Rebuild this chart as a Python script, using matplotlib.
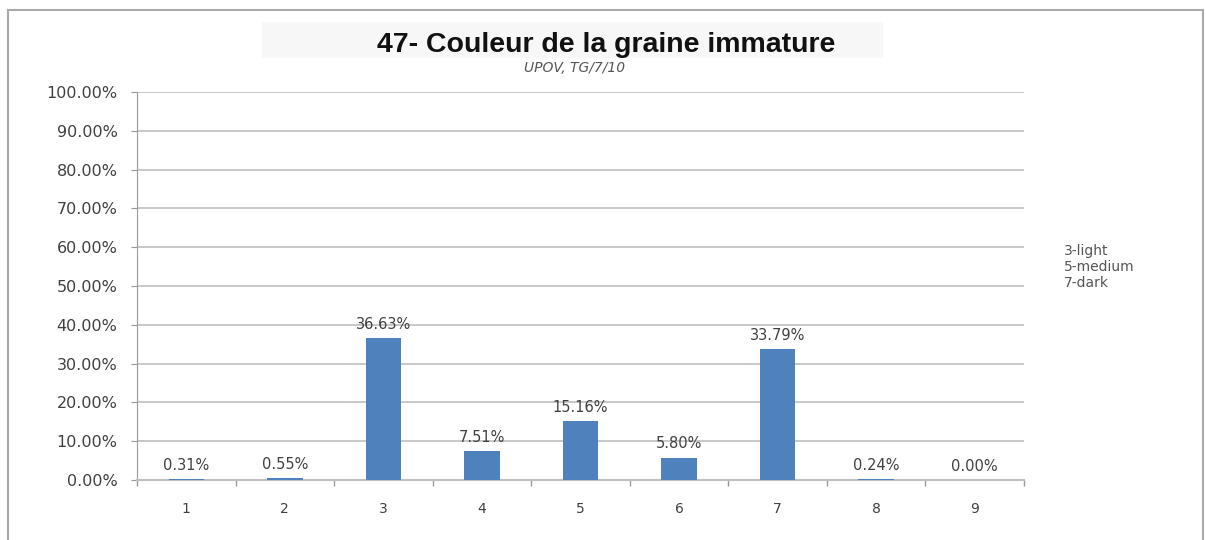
import matplotlib.pyplot as plt
from matplotlib.patches import Rectangle
from matplotlib.ticker import FuncFormatter, MultipleLocator

categories = ['1', '2', '3', '4', '5', '6', '7', '8', '9']
values = [0.31, 0.55, 36.63, 7.51, 15.16, 5.80, 33.79, 0.24, 0.00]
legend_lines = ['3-light', '5-medium', '7-dark']

fig = plt.figure(figsize=(12.06, 5.4), dpi=100)
ax = fig.add_axes([0.1136, 0.111, 0.7355, 0.7185])

x = list(range(len(categories)))
ax.bar(x, values, width=0.36, color='#4F81BD', zorder=3)
for xi, v in zip(x, values):
    ax.text(xi, v + 1.6, f'{v:.2f}%', ha='center', va='bottom',
            fontsize=10.5, color='#404040', zorder=4)

ax.set_xlim(-0.5, len(categories) - 0.5)
ax.set_ylim(0, 100)
ax.yaxis.set_major_locator(MultipleLocator(10))
ax.yaxis.set_major_formatter(FuncFormatter(lambda v, p: f'{v:.2f}%'))
ax.grid(axis='y', color='#BFBFBF', linewidth=1.2, zorder=0)

ax.set_xticks(x)
ax.set_xticklabels(categories)
ax.set_xticks([i + 0.5 for i in range(-1, len(categories))], minor=True)
ax.tick_params(axis='x', which='major', length=0, pad=16, labelsize=10, labelcolor='#404040')
ax.tick_params(axis='x', which='minor', length=4, color='#999999', width=1)
ax.tick_params(axis='y', length=4, color='#999999', labelsize=11.5, labelcolor='#404040', pad=10)

for side in ['top', 'right']:
    ax.spines[side].set_visible(False)
ax.spines['left'].set_color('#999999')
ax.spines['bottom'].set_color('#BFBFBF')
ax.spines['bottom'].set_linewidth(1.5)

# title with light grey box, subtitle
fig.patches.append(Rectangle((262 / 1206, 1 - 58 / 540), 621 / 1206, 36 / 540,
                             transform=fig.transFigure, facecolor='#F7F7F7',
                             edgecolor='none', zorder=0))
fig.text(606 / 1206, 1 - 45 / 540, '47- Couleur de la graine immature', ha='center',
         va='center', fontsize=20.5, fontweight='bold', family='Liberation Sans',
         color='#111111')
fig.text(575 / 1206, 1 - 68 / 540, 'UPOV, TG/7/10', ha='center', va='center',
         fontsize=10, style='italic', color='#555555')

fig.text(1064 / 1206, 1 - 267 / 540, '\n'.join(legend_lines), ha='left', va='center',
         fontsize=10, color='#555555', linespacing=1.2)

# outer frame
fig.patches.append(Rectangle((8 / 1206, -0.01), 1195 / 1206, 1 - 10 / 540 + 0.01,
                             transform=fig.transFigure, facecolor='none',
                             edgecolor='#AAAAAA', linewidth=1.5))

fig.savefig('out.png', dpi=100)
